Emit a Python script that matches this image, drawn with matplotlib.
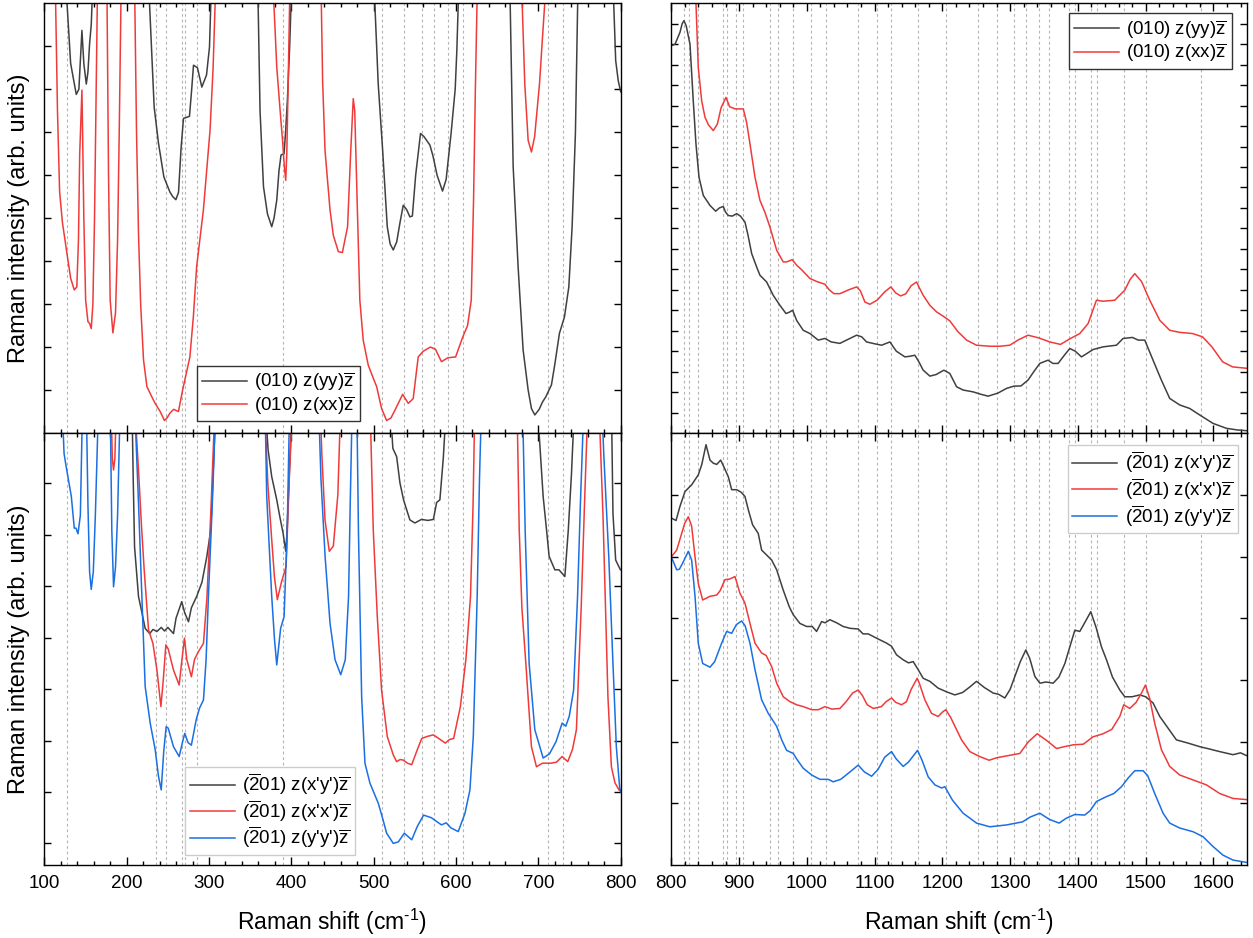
import numpy as np
import matplotlib
matplotlib.use('Agg')
import matplotlib.pyplot as plt
from matplotlib.ticker import MultipleLocator, FixedLocator

plt.rcParams['font.family'] = ['Liberation Sans', 'DejaVu Sans']
plt.rcParams['mathtext.fontset'] = 'custom'
plt.rcParams['mathtext.rm'] = 'Liberation Sans'
plt.rcParams['mathtext.it'] = 'Liberation Sans:italic'
plt.rcParams['axes.linewidth'] = 1.0

c_black = '#404040'
c_red = '#f03a3a'
c_blue = '#1a6fe3'

# peak positions marked with dotted lines (cm-1)
peaks_low = [127, 236, 248, 267, 271, 285, 390, 510, 537, 559, 573, 590, 609, 712, 730]
peaks_high = [819, 826, 840, 876, 882, 895, 906, 946, 958, 980, 1006, 1028, 1075, 1103,
              1124, 1164, 1206, 1252, 1281, 1305, 1323, 1343, 1358, 1387, 1396, 1419,
              1428, 1468, 1501, 1582]

# ---- (010) face, low wavenumber (y in arb. units, >10 is off scale) ----
yy010_low = np.array([
    [100, 10.5], [126, 10.5], [132, 8.6], [138.8, 7.88], [142, 8.0], [145.7, 9.37], [148, 8.6],
    [151, 8.12], [153, 8.4], [155, 9.06], [157, 9.5], [159, 10.5],
    [226.6, 10.5], [233.4, 7.59], [238.7, 6.74], [245.2, 5.96], [252.5, 5.61], [256, 5.5],
    [259.8, 5.43], [263, 5.6], [266, 6.6], [269, 7.32], [276.3, 7.37], [279, 8.0], [281.2, 8.56],
    [286, 8.5], [291.3, 8.05], [297, 8.33], [300.6, 8.98], [303, 10.5],
    [359.2, 10.5], [362, 7.5], [366.2, 5.73], [371, 5.1], [376.2, 4.8], [379, 5.0], [382.3, 5.42],
    [385, 6.1], [387.5, 6.47], [391.2, 6.5], [393, 7.0], [395.2, 7.74], [398, 9.0], [400.5, 10.5],
    [500.3, 10.5], [505.5, 8.13], [510.9, 6.58], [516.5, 4.8], [520, 4.4], [523.8, 4.26],
    [528, 4.45], [532, 4.9], [535.9, 5.30], [540, 5.2], [544, 5.03], [547, 5.05], [551, 6.0],
    [556.9, 6.97], [561, 6.9], [568.3, 6.7], [572, 6.45], [577, 6.0], [583.6, 5.63], [588, 5.9],
    [594, 6.97], [599, 8.0], [601, 8.9], [603.5, 10.5],
    [665.3, 10.5], [669.4, 6.2], [675.4, 3.87], [681.5, 1.93], [687.6, 1.0], [691.6, 0.57],
    [695.7, 0.42], [701, 0.55], [705, 0.72], [709, 0.84], [715.9, 1.12], [720, 1.6], [725.6, 2.32],
    [731.7, 2.7], [737, 3.4], [741, 4.8], [745, 6.97], [748.2, 10.5],
    [790.6, 10.5], [793.9, 8.67], [797, 8.2], [800, 7.94],
])
xx010_low = np.array([
    [100, 10.5], [113.3, 10.5], [116, 7.5], [118.6, 5.61], [122, 4.9], [127.5, 4.18], [132, 3.6],
    [136.4, 3.33], [139.5, 3.4], [141.5, 4.5], [143, 6.5], [145.7, 7.98], [146.5, 7.0], [148, 5.0],
    [150.2, 3.09], [153, 2.59], [155, 2.55], [157, 2.43], [159, 3.0], [161, 5.0], [163, 8.0],
    [164.7, 10.5],
    [176, 10.5], [178, 6.0], [180, 3.09], [183.3, 2.33], [186.5, 2.8], [189, 4.5], [191, 7.0],
    [193.4, 10.5],
    [209.6, 10.5], [212, 7.0], [214.4, 4.64], [217, 3.0], [220.5, 1.70], [224.6, 1.08],
    [230.6, 0.84], [234.6, 0.69], [240.7, 0.5], [245.9, 0.29], [249, 0.35], [252.5, 0.46],
    [257, 0.55], [262.9, 0.5], [268, 1.0], [276.8, 1.77], [281, 2.7], [285, 3.87], [293.2, 5.19],
    [301.3, 7.05], [305, 8.5], [308.3, 10.5],
    [377.5, 10.5], [380, 9.5], [382.3, 8.52], [386, 7.6], [389.6, 6.74], [391.5, 6.2],
    [393.2, 5.88], [394.5, 6.5], [396, 8.0], [398.4, 10.5],
    [436, 10.5], [438, 8.2], [440.9, 6.58], [447, 5.19], [451, 4.6], [457.1, 4.22], [462, 4.2],
    [468.3, 4.8], [472, 6.5], [475.2, 7.78], [477, 7.5], [479.9, 5.42], [483.2, 3.09],
    [487.3, 2.16], [493.4, 1.58], [498, 1.35], [503.6, 1.08], [509.6, 0.57], [515.7, 0.29],
    [521, 0.35], [525, 0.5], [529.9, 0.69], [535.2, 0.9], [542, 0.69], [548, 0.8], [554.1, 1.77],
    [560, 1.9], [568.8, 2.0], [575, 1.95], [582.3, 1.66], [590, 1.75], [599.5, 1.77],
    [608.3, 2.24], [614, 2.5], [618.5, 3.09], [621.3, 5.42], [623.5, 8.0], [626, 10.5],
    [679.5, 10.5], [683.5, 8.13], [687.6, 6.81], [691.6, 6.54], [695.5, 6.9], [701.4, 8.13],
    [705, 9.2], [709.5, 10.5], [800, 10.5],
])

# ---- (-201) face, low wavenumber (>8.4 is off scale) ----
xpyp201_low = np.array([
    [100, 9], [206.4, 9], [208, 7.5], [209.6, 6.19], [214.4, 5.22], [218, 4.95], [222.5, 4.6],
    [228, 4.5], [232, 4.58], [236.8, 4.54], [242, 4.62], [246, 4.55], [250, 4.62], [256.9, 4.5],
    [260, 4.8], [266.9, 5.12], [270.6, 4.9], [275.1, 4.73], [278.6, 5.0], [285, 5.22],
    [291.5, 5.5], [297.4, 6.0], [302.2, 6.52], [305.5, 7.8], [308.6, 9],
    [368, 9], [371.8, 8.07], [376.2, 7.55], [382.3, 7.1], [386.3, 6.75], [390, 6.45],
    [393.2, 6.1], [394.5, 6.4], [397.5, 7.6], [401.2, 9],
    [519.8, 9], [523.3, 8.1], [527.9, 7.94], [531.9, 7.43], [536.3, 7.1], [540, 6.91], [544, 6.71],
    [550.1, 6.65], [558, 6.72], [566, 6.7], [572.5, 6.72], [576.5, 7.05], [580.4, 7.1],
    [584.5, 7.9], [588.5, 9],
    [698.5, 9], [705.8, 7.17], [709.9, 6.52], [713.1, 6.0], [720, 5.74], [725, 5.74],
    [732.2, 5.61], [736.3, 6.5], [740.2, 7.6], [744, 9],
    [788.7, 9], [790.6, 6.84], [793.9, 5.93], [799.6, 5.74], [800, 5.74],
])
xpxp201_low = np.array([
    [100, 9], [181, 9], [182.6, 7.9], [184.1, 7.68], [185.7, 7.9], [187.5, 9],
    [209.6, 9], [215, 7.5], [218, 6.6], [221.3, 5.74], [226.6, 4.57], [231.9, 4.31],
    [236.8, 3.79], [241.6, 3.08], [244.5, 3.6], [247.6, 4.28], [250.5, 4.2], [256.9, 3.79],
    [263.8, 3.5], [266.5, 3.9], [270.2, 4.41], [273, 4.0], [278.6, 3.66], [282.5, 4.0],
    [287.2, 4.15], [293.3, 4.31], [297.5, 5.2], [302.2, 6.84], [307.4, 9],
    [367.3, 9], [371.5, 7.4], [376.2, 6.32], [379.5, 5.6], [383, 5.16], [388, 5.5], [393.6, 5.8],
    [397.5, 7.5], [401.5, 9],
    [435, 9], [437, 8.0], [440.9, 6.71], [446.1, 6.1], [451, 6.2], [456.5, 7.2], [460, 9],
    [495.5, 9], [499.5, 6.52], [504.4, 4.83], [509.6, 3.40], [516.5, 2.50], [523.8, 2.14],
    [527.9, 2.01], [532, 2.05], [536, 2.04], [541, 1.98], [546.2, 1.95], [552, 2.2],
    [558.3, 2.46], [565, 2.5], [572.5, 2.53], [580, 2.45], [587, 2.37], [592, 2.44],
    [597.1, 2.46], [605.3, 3.08], [612, 4.0], [617.6, 5.22], [620.7, 7.0], [622.9, 9],
    [674, 9], [676.8, 6.5], [680, 5.0], [684.8, 3.92], [691.6, 2.30], [697.7, 1.91], [705, 1.98],
    [715.5, 1.98], [722, 2.0], [728.9, 2.11], [735.7, 2.01], [741.5, 2.25], [746.2, 2.63],
    [752, 5.0], [756, 7.0], [760.3, 9],
    [773.5, 9], [775.3, 8.2], [778.5, 6.8], [784.5, 3.27], [788.7, 1.91], [793, 1.6],
    [797.9, 1.46], [800, 1.44],
])
ypyp201_low = np.array([
    [100, 9], [121.5, 9], [124, 8.0], [126.5, 7.75], [132.8, 7.17], [136.4, 6.55], [138.5, 6.55],
    [140.9, 6.44], [143.8, 6.8], [146.5, 9],
    [151, 9], [153, 7.0], [155, 5.7], [157, 5.36], [159.5, 5.7], [162, 6.8], [165.9, 9],
    [180, 9], [182, 6.5], [184.1, 5.41], [186.5, 5.8], [189, 6.8], [192.2, 9],
    [209.6, 9], [214.5, 7.0], [218.5, 5.22], [222.5, 3.47], [228.6, 2.76], [234.7, 2.24],
    [238.7, 1.72], [242, 1.46], [245, 2.2], [248, 2.69], [250.5, 2.66], [256.9, 2.3],
    [263.8, 2.11], [268, 2.4], [270.6, 2.56], [274.5, 2.38], [278.6, 2.33], [284.4, 2.82],
    [288.5, 3.05], [293.3, 3.21], [296.5, 4.0], [299.3, 5.22], [304.5, 7.2], [308.3, 9],
    [368, 9], [370.1, 7.17], [376.2, 5.22], [379.5, 4.4], [382.3, 3.89], [387, 4.6],
    [391.2, 4.83], [395, 6.5], [398, 9],
    [433, 9], [436, 7.5], [441, 6.0], [447, 4.7], [453.1, 3.99], [460, 3.70], [465.5, 3.99],
    [469.5, 5.22], [471.5, 7.0], [474, 9],
    [479.5, 9], [481.5, 6.5], [485.4, 3.27], [489.4, 1.98], [495.5, 1.59], [505.6, 1.2],
    [511, 0.9], [515.7, 0.62], [523.8, 0.42], [530, 0.45], [537.2, 0.62], [546.2, 0.49],
    [553, 0.75], [560.6, 0.97], [570, 0.92], [582.3, 0.78], [588, 0.82], [594, 0.72],
    [602.7, 0.65], [610.8, 1.0], [616.9, 1.46], [621, 2.5], [625.7, 5.22], [628.5, 7.5], [631, 9],
    [680.7, 9], [684, 6.5], [688.8, 3.92], [695.7, 2.63], [705.8, 2.08], [713.5, 2.16],
    [721.5, 2.4], [728.9, 2.76], [733.3, 2.7], [737.5, 2.89], [742.8, 3.4], [747.6, 5.22],
    [751, 7.0], [755.4, 9],
    [777, 9], [779.4, 8.0], [785.5, 6.0], [790.6, 3.92], [794.7, 2.3], [798.8, 1.49], [800, 1.42],
])

# ---- (010) face, high wavenumber (>21 off scale) ----
yy010_high = np.array([
    [800, 18.93], [805.5, 19.0], [812.8, 19.58], [816, 20.0], [818.7, 20.15], [822, 19.9],
    [827.6, 19.0], [832.4, 16.24], [836.4, 14.13], [840.9, 12.5], [847.2, 11.61], [857.1, 11.12],
    [865.5, 10.84], [871, 11.0], [876.7, 11.07], [880, 10.8], [884.1, 10.63], [890, 10.6],
    [896.5, 10.72], [902, 10.6], [908.7, 10.31], [913, 9.7], [918.6, 8.77], [926, 8.11],
    [930.8, 7.71], [940.7, 7.38], [950.4, 6.73], [960.3, 6.24], [969.2, 5.84], [974, 5.9],
    [979, 6.0], [985, 5.5], [994.7, 5.02], [1004.6, 4.86], [1016.8, 4.54], [1026.7, 4.62],
    [1036, 4.45], [1048.8, 4.38], [1061, 4.58], [1073.5, 4.78], [1081, 4.7], [1088.2, 4.45],
    [1100, 4.36], [1110.3, 4.29], [1122.6, 4.45], [1132, 4.0], [1144.7, 3.72], [1152, 3.75],
    [1159.4, 3.8], [1165, 3.5], [1171.7, 3.07], [1181.6, 2.78], [1191, 2.86], [1202.2, 3.07],
    [1211, 2.91], [1221, 2.26], [1230.7, 2.1], [1245.4, 2.01], [1256, 1.9], [1267.5, 1.8],
    [1282, 1.95], [1294.7, 2.18], [1305.5, 2.29], [1316, 2.3], [1326.5, 2.59], [1335, 3.0],
    [1343.8, 3.4], [1356, 3.56], [1363, 3.4], [1370.8, 3.4], [1380, 3.8], [1388.1, 4.13],
    [1396, 4.0], [1405.3, 3.72], [1414, 3.9], [1422.4, 4.08], [1437.2, 4.21], [1456.9, 4.29],
    [1466.7, 4.62], [1480.5, 4.67], [1489, 4.54], [1498.7, 4.54], [1510.9, 3.56], [1523, 2.6],
    [1535.5, 1.69], [1550.3, 1.37], [1565, 1.2], [1579.8, 0.88], [1599.4, 0.47], [1619.1, 0.23],
    [1635, 0.15], [1650, 0.11],
])
xx010_high = np.array([
    [800, 22], [835, 22], [836.4, 21.0], [839.8, 17.87], [844.8, 16.24], [849.7, 15.43],
    [855, 15.05], [862, 14.78], [868, 15.1], [873.5, 15.9], [880.7, 16.4], [886, 15.95],
    [894, 15.84], [906.2, 15.84], [911, 15.2], [916.1, 14.13], [923.5, 12.5], [930.8, 11.37],
    [938, 10.8], [945.6, 10.06], [955.5, 8.93], [965.2, 8.36], [970, 8.36], [978.5, 8.47],
    [985, 8.2], [992.3, 7.98], [1004.6, 7.55], [1015, 7.4], [1026.7, 7.27], [1033, 7.0],
    [1040, 6.81], [1048.8, 6.81], [1062, 7.0], [1073.5, 7.14], [1079, 6.95], [1085.7, 6.4],
    [1093.1, 6.29], [1104, 6.5], [1115, 6.9], [1124, 7.14], [1131, 6.85], [1138.4, 6.7],
    [1146, 6.8], [1154, 7.2], [1161.9, 7.38], [1166, 7.1], [1171.7, 6.73], [1181.6, 6.24],
    [1191.4, 5.92], [1201.2, 5.71], [1211, 5.48], [1223, 4.95], [1235.7, 4.54], [1250.4, 4.29],
    [1270, 4.24], [1285, 4.24], [1299.5, 4.29], [1312, 4.55], [1326.5, 4.78], [1342, 4.65],
    [1358.6, 4.45], [1374.3, 4.33], [1388, 4.6], [1402.8, 4.86], [1415.1, 5.35], [1427.4, 6.49],
    [1437.2, 6.44], [1454.4, 6.49], [1469.2, 6.98], [1477, 7.5], [1483.9, 7.79], [1494, 7.4],
    [1506, 6.49], [1520.8, 5.51], [1535.5, 5.02], [1550, 4.92], [1569.2, 4.86], [1584, 4.7],
    [1598, 4.2], [1613.5, 3.48], [1628.3, 3.23], [1650, 3.16],
])

# ---- (-201) face, high wavenumber ----
xpyp201_high = np.array([
    [800, 5.63], [807, 5.59], [812.8, 5.82], [820.2, 6.06], [830.1, 6.17], [839.8, 6.33],
    [845, 6.5], [851.2, 6.82], [857.1, 6.57], [862, 6.52], [867, 6.5], [872.9, 6.57], [878, 6.45],
    [884.1, 6.3], [889.1, 6.09], [896.5, 6.09], [903, 6.05], [908.7, 5.98], [914, 5.75],
    [920, 5.52], [928.3, 5.38], [933.3, 5.11], [940.7, 5.03], [948, 4.95], [955.5, 4.79],
    [965.2, 4.46], [974.1, 4.19], [980, 4.06], [989.8, 3.92], [999.7, 3.87], [1008, 3.87],
    [1014.4, 3.79], [1021.8, 3.95], [1027, 3.93], [1034, 3.98], [1044, 3.93], [1053.7, 3.87],
    [1064, 3.84], [1075.8, 3.83], [1083, 3.75], [1090.6, 3.75], [1103, 3.68], [1117.7, 3.6],
    [1125, 3.55], [1132.4, 3.41], [1142.2, 3.33], [1150, 3.28], [1157, 3.3], [1164.3, 3.17],
    [1171.7, 3.03], [1181.6, 2.98], [1193.8, 2.87], [1206.2, 2.81], [1218.4, 2.76], [1230, 2.8],
    [1240.6, 2.89], [1250.4, 2.98], [1262, 2.88], [1275, 2.79], [1283, 2.77], [1292.2, 2.71],
    [1300, 2.85], [1307, 3.06], [1315, 3.3], [1323.2, 3.49], [1329, 3.35], [1336.5, 3.06],
    [1343.9, 2.95], [1353, 2.97], [1363.5, 2.95], [1372, 3.05], [1380.8, 3.27], [1388.1, 3.54],
    [1395.5, 3.81], [1402.8, 3.79], [1411, 3.95], [1419, 4.11], [1427, 3.85], [1434.8, 3.54],
    [1442.2, 3.33], [1451, 3.05], [1461.8, 2.84], [1469.2, 2.73], [1480, 2.73], [1491.3, 2.76],
    [1500, 2.73], [1510.9, 2.63], [1520.8, 2.41], [1533.1, 2.22], [1545.4, 2.03], [1562, 1.98],
    [1579.8, 1.92], [1595, 1.88], [1609.3, 1.84], [1628.9, 1.79], [1640, 1.82], [1650, 1.77],
])
xpxp201_high = np.array([
    [800, 5.0], [808, 5.11], [815.3, 5.38], [820, 5.55], [825.1, 5.65], [830, 5.5], [835, 5.0],
    [839.8, 4.57], [846.3, 4.3], [857.1, 4.36], [867, 4.38], [872, 4.45], [879.2, 4.63],
    [886, 4.64], [894, 4.68], [901.3, 4.41], [908.7, 4.25], [916.1, 3.92], [923.5, 3.6],
    [933.3, 3.44], [940, 3.4], [948.1, 3.22], [955.5, 2.95], [965.2, 2.73], [975.1, 2.65],
    [985, 2.6], [994.7, 2.57], [1007.1, 2.52], [1017, 2.52], [1026.7, 2.57], [1037, 2.53],
    [1048.8, 2.54], [1058, 2.65], [1067.5, 2.79], [1075.8, 2.84], [1082, 2.75], [1089.1, 2.6],
    [1098, 2.54], [1110, 2.57], [1117, 2.65], [1125, 2.71], [1131, 2.64], [1139.8, 2.6],
    [1147, 2.65], [1154, 2.85], [1162.8, 3.03], [1166, 2.95], [1174.2, 2.68], [1184, 2.46],
    [1193.8, 2.41], [1200, 2.48], [1205, 2.52], [1212, 2.4], [1228.3, 2.03], [1240.6, 1.84],
    [1255, 1.76], [1269, 1.70], [1280, 1.74], [1294.7, 1.77], [1314.3, 1.81], [1327, 2.0],
    [1340, 2.13], [1354, 2.02], [1368.5, 1.89], [1380, 1.92], [1393, 1.95], [1408, 1.96],
    [1422.4, 2.08], [1437.2, 2.13], [1450, 2.2], [1461.8, 2.41], [1467.7, 2.6], [1476.5, 2.54],
    [1486, 2.64], [1493.8, 2.79], [1499.7, 2.92], [1506, 2.7], [1513.4, 2.3], [1523.3, 1.87],
    [1535.5, 1.6], [1550.3, 1.46], [1570, 1.38], [1589.7, 1.3], [1609.3, 1.16], [1628.9, 1.08],
    [1650, 1.06],
])
ypyp201_high = np.array([
    [800, 5.0], [808, 4.79], [812, 4.8], [817.7, 4.92], [825.1, 5.09], [830, 4.95], [835, 4.36],
    [839.8, 3.6], [846.3, 3.27], [857.1, 3.21], [864, 3.3], [874.3, 3.6], [881.7, 3.79],
    [889.1, 3.76], [896, 3.9], [903.8, 3.96], [909, 3.88], [916.1, 3.6], [923.5, 3.17],
    [933.3, 2.68], [943.1, 2.46], [955.5, 2.25], [962.9, 2.03], [970.2, 1.86], [980, 1.81],
    [985, 1.72], [994.7, 1.57], [1007.1, 1.46], [1019.3, 1.39], [1031.6, 1.39], [1038.9, 1.35],
    [1050, 1.39], [1063.6, 1.51], [1075.8, 1.62], [1085, 1.51], [1095.6, 1.44], [1105, 1.55],
    [1115, 1.75], [1125, 1.84], [1132, 1.72], [1142.2, 1.6], [1150, 1.67], [1163.4, 1.86],
    [1170, 1.7], [1179.1, 1.43], [1189, 1.3], [1198.8, 1.25], [1203.7, 1.27], [1215, 1.05],
    [1230.7, 0.84], [1250.4, 0.68], [1270, 0.62], [1294.7, 0.65], [1318.3, 0.7], [1330, 0.78],
    [1343.8, 0.84], [1358, 0.74], [1372.3, 0.68], [1383, 0.76], [1395.5, 0.82], [1410, 0.81],
    [1418, 0.88], [1427.4, 1.03], [1442.2, 1.11], [1453, 1.16], [1464.3, 1.27], [1474.1, 1.41],
    [1484, 1.53], [1496.2, 1.53], [1503, 1.45], [1513.4, 1.16], [1525.7, 0.84], [1535.5, 0.68],
    [1550.3, 0.6], [1569.9, 0.54], [1584.6, 0.46], [1599.4, 0.3], [1614.1, 0.16], [1628.9, 0.08],
    [1650, 0.04],
])

lab_yy = r'(010) z(yy)$\overline{\rm z}$'
lab_xx = r'(010) z(xx)$\overline{\rm z}$'
lab_xpyp = r"($\overline{\rm 2}$01) z(x'y')$\overline{\rm z}$"
lab_xpxp = r"($\overline{\rm 2}$01) z(x'x')$\overline{\rm z}$"
lab_ypyp = r"($\overline{\rm 2}$01) z(y'y')$\overline{\rm z}$"

fig = plt.figure(figsize=(12.53, 9.38), dpi=100)
W, H = 1253.0, 938.0
ax_tl = fig.add_axes([44.3 / W, 1 - 433 / H, 576.4 / W, 429.7 / H])
ax_bl = fig.add_axes([44.3 / W, 1 - 865 / H, 576.4 / W, 432 / H])
ax_tr = fig.add_axes([671.3 / W, 1 - 433 / H, 576 / W, 429.7 / H])
ax_br = fig.add_axes([671.3 / W, 1 - 865 / H, 576 / W, 432 / H])

lw = 1.1
ax_tl.plot(yy010_low[:, 0], yy010_low[:, 1], color=c_black, lw=lw, label=lab_yy)
ax_tl.plot(xx010_low[:, 0], xx010_low[:, 1], color=c_red, lw=lw, label=lab_xx)
ax_bl.plot(xpyp201_low[:, 0], xpyp201_low[:, 1], color=c_black, lw=lw, label=lab_xpyp)
ax_bl.plot(xpxp201_low[:, 0], xpxp201_low[:, 1], color=c_red, lw=lw, label=lab_xpxp)
ax_bl.plot(ypyp201_low[:, 0], ypyp201_low[:, 1], color=c_blue, lw=lw, label=lab_ypyp)
ax_tr.plot(yy010_high[:, 0], yy010_high[:, 1], color=c_black, lw=lw, label=lab_yy)
ax_tr.plot(xx010_high[:, 0], xx010_high[:, 1], color=c_red, lw=lw, label=lab_xx)
ax_br.plot(xpyp201_high[:, 0], xpyp201_high[:, 1], color=c_black, lw=lw, label=lab_xpyp)
ax_br.plot(xpxp201_high[:, 0], xpxp201_high[:, 1], color=c_red, lw=lw, label=lab_xpxp)
ax_br.plot(ypyp201_high[:, 0], ypyp201_high[:, 1], color=c_blue, lw=lw, label=lab_ypyp)

for ax in (ax_tl, ax_bl):
    ax.set_xlim(100, 800)
    for p in peaks_low:
        ax.axvline(p, color='#b5b5b5', lw=0.8, ls=(0, (2.5, 2.5)), zorder=0)
for ax in (ax_tr, ax_br):
    ax.set_xlim(800, 1650)
    for p in peaks_high:
        ax.axvline(p, color='#b5b5b5', lw=0.8, ls=(0, (2.5, 2.5)), zorder=0)

ax_tl.set_ylim(0, 10)
ax_tl.yaxis.set_major_locator(FixedLocator(np.arange(1, 10)))
ax_bl.set_ylim(0, 8.4)
ax_bl.yaxis.set_major_locator(FixedLocator(np.arange(0.42, 8.0, 1.0)))
ax_tr.set_ylim(0, 21)
ax_tr.yaxis.set_major_locator(FixedLocator(np.arange(1, 21)))
ax_br.set_ylim(0, 7.01)
ax_br.yaxis.set_major_locator(FixedLocator(np.arange(1, 7)))

for ax in (ax_tl, ax_bl, ax_tr, ax_br):
    ax.xaxis.set_major_locator(MultipleLocator(100))
    ax.xaxis.set_minor_locator(MultipleLocator(20))
    ax.tick_params(axis='x', which='major', direction='in', top=True, bottom=True,
                   length=6, width=1, labelsize=13.5, pad=7)
    ax.tick_params(axis='x', which='minor', direction='in', top=True, bottom=True,
                   length=3, width=1)
    ax.tick_params(axis='y', which='major', direction='in', left=True, right=True,
                   length=5, width=1, labelleft=False)
for ax in (ax_tl, ax_tr):
    ax.tick_params(axis='x', which='both', labelbottom=False)

leg_kw = dict(fontsize=13.5, frameon=True, fancybox=False, framealpha=1,
              edgecolor='#333333', handlelength=2.4, handletextpad=0.4,
              borderaxespad=0, labelspacing=0.05, borderpad=0.25)
lg = ax_tl.legend(loc='lower left', bbox_to_anchor=(0.265, 0.027), **leg_kw)
lg.get_frame().set_linewidth(1.0)
lg = ax_bl.legend(loc='lower left', bbox_to_anchor=(0.244, 0.023), **leg_kw)
lg.get_frame().set_linewidth(1.0)
lg.get_frame().set_edgecolor('#cccccc')
lg = ax_tr.legend(loc='upper right', bbox_to_anchor=(0.973, 0.977), **leg_kw)
lg.get_frame().set_linewidth(1.0)
lg = ax_br.legend(loc='upper right', bbox_to_anchor=(0.983, 0.972), **leg_kw)
lg.get_frame().set_linewidth(1.0)
lg.get_frame().set_edgecolor('#cccccc')

fig.text(19 / W, 1 - 218 / H, 'Raman intensity (arb. units)', rotation=90,
         ha='center', va='center', fontsize=17)
fig.text(19 / W, 1 - 649 / H, 'Raman intensity (arb. units)', rotation=90,
         ha='center', va='center', fontsize=17)
fig.text(332 / W, 1 - 922 / H, r'Raman shift (cm$^{\text{-1}}$)', ha='center', va='center',
         fontsize=16.5)
fig.text(959 / W, 1 - 922 / H, r'Raman shift (cm$^{\text{-1}}$)', ha='center', va='center',
         fontsize=16.5)

fig.savefig('out.png', dpi=100)
